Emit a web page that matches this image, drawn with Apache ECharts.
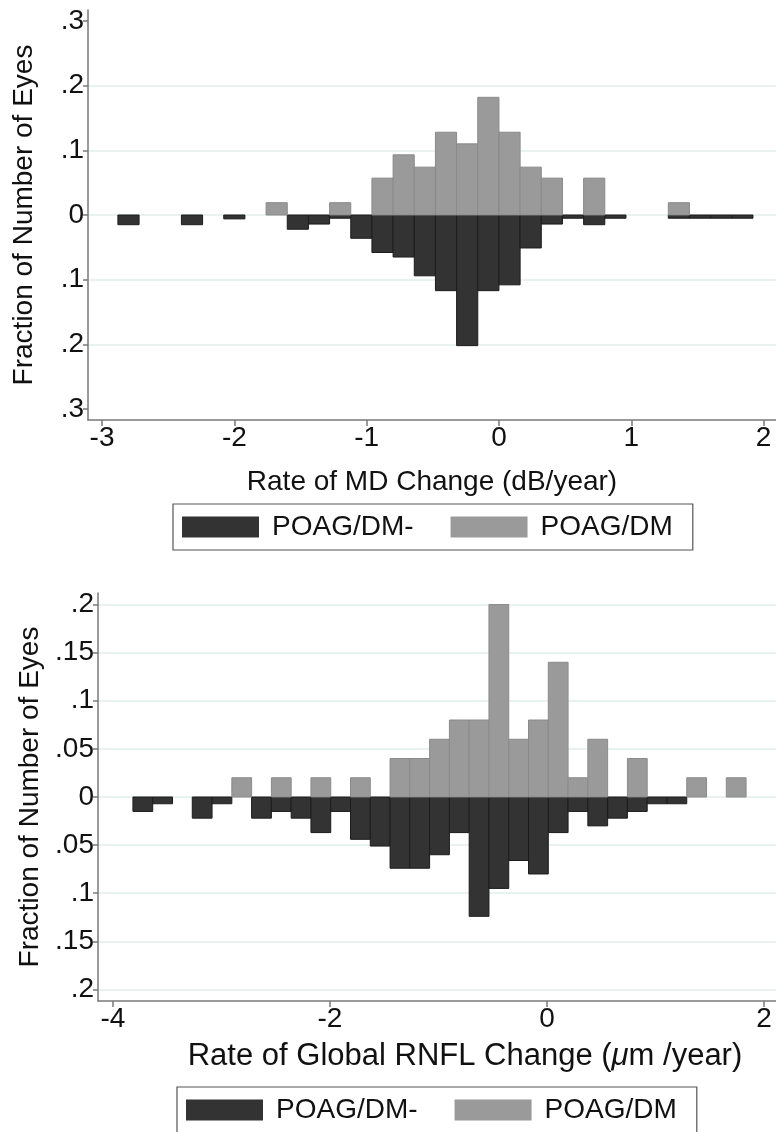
<!DOCTYPE html>
<html>
<head>
<meta charset="utf-8">
<script src="https://cdn.jsdelivr.net/npm/echarts@6/dist/echarts.min.js"></script>
<style>
html,body{margin:0;padding:0;background:#fff}
#c{width:776px;height:1132px}
</style>
</head>
<body>
<div id="c"></div>
<script>
// ---------- Data: top panel (rate of MD change, dB/year) ----------
const mdBinStart = -2.88;
const mdBinWidth = 0.16;
// POAG/DM- (drawn downward), fraction per bin
const mdDMminus = [0.015, 0, 0, 0.015, 0, 0.006, 0, 0, 0.022, 0.014,
                   0.005, 0.036, 0.058, 0.065, 0.094, 0.117, 0.202, 0.117, 0.108, 0.051,
                   0.014, 0.005, 0.015, 0.005, 0, 0, 0.005, 0.005, 0.005, 0.005];
// POAG/DM (drawn upward)
const mdDM =      [0, 0, 0, 0, 0, 0, 0, 0.019, 0, 0,
                   0.019, 0, 0.057, 0.093, 0.074, 0.128, 0.110, 0.182, 0.128, 0.074,
                   0.057, 0, 0.057, 0, 0, 0, 0.019, 0, 0, 0];
const mdXTicks = [-3, -2, -1, 0, 1, 2];
const mdYTicks = [-0.3, -0.2, -0.1, 0, 0.1, 0.2, 0.3];

// ---------- Data: bottom panel (rate of global RNFL change, um/year) ----------
const rnflBinStart = -3.816;
const rnflBinWidth = 0.1823;
const rnflDMminus = [0.015, 0.007, 0, 0.022, 0.007, 0, 0.022, 0.015, 0.022, 0.037,
                     0.015, 0.044, 0.051, 0.074, 0.074, 0.060, 0.037, 0.124, 0.095, 0.066,
                     0.080, 0.037, 0.015, 0.030, 0.022, 0.015, 0.007, 0.007, 0, 0, 0];
const rnflDM =      [0, 0, 0, 0, 0, 0.02, 0, 0.02, 0, 0.02,
                     0, 0.02, 0, 0.04, 0.04, 0.06, 0.08, 0.08, 0.20, 0.06,
                     0.08, 0.14, 0.02, 0.06, 0, 0.04, 0, 0, 0.02, 0, 0.02];
const rnflXTicks = [-4, -2, 0, 2];
const rnflYTicks = [-0.2, -0.15, -0.1, -0.05, 0, 0.05, 0.1, 0.15, 0.2];

const seriesNames = ['POAG/DM-', 'POAG/DM'];

// ---------- Styles ----------
const FONT = 'Liberation Sans, Arial, Helvetica, sans-serif';
const DARK = '#333333', DARK_EDGE = '#1c1c1c';
const LIGHT = '#9a9a9a', LIGHT_EDGE = '#8a8a8a';
const AXIS = '#7a7a7a';
const GRID = '#e3ecec';

function toBars(start, width, vals, sign) {
  const out = [];
  vals.forEach((v, i) => {
    if (v) out.push([start + i * width, start + (i + 1) * width, sign * v]);
  });
  return out;
}

function renderBar(params, api) {
  const p0 = api.coord([api.value(0), 0]);
  const p1 = api.coord([api.value(1), api.value(2)]);
  const s = api.style();
  return {
    type: 'rect',
    shape: {
      x: Math.min(p0[0], p1[0]), y: Math.min(p0[1], p1[1]),
      width: Math.abs(p1[0] - p0[0]), height: Math.abs(p1[1] - p0[1])
    },
    style: s
  };
}

function yFmt(v) {
  if (Math.abs(v) < 1e-9) return '0';
  return String(+Math.abs(v).toFixed(3)).replace(/^0/, '');
}

function gridColors(ticks, hideEnds) {
  return ticks.map((t, i) => (hideEnds && (i === 0 || i === ticks.length - 1)) ? 'rgba(0,0,0,0)' : GRID);
}

function xAxisCfg(idx, min, max, ticks, name, gap, nameSize, namePadLeft) {
  return {
    type: 'value', gridIndex: idx, min: min, max: max,
    name: name, nameLocation: 'middle', nameGap: gap,
    nameTextStyle: {
      fontSize: nameSize, color: '#111', fontFamily: FONT,
      padding: [0, 0, 0, namePadLeft],
      rich: {
        n: {fontSize: nameSize, color: '#111', fontFamily: FONT},
        i: {fontSize: nameSize, color: '#111', fontFamily: FONT, fontStyle: 'italic'}
      }
    },
    axisLine: {show: true, onZero: false, lineStyle: {color: AXIS, width: 1.5}},
    axisTick: {show: true, customValues: ticks, length: 6, lineStyle: {color: AXIS, width: 1.5}},
    axisLabel: {show: true, customValues: ticks, fontSize: 28, color: '#111', fontFamily: FONT, margin: 4},
    splitLine: {show: false}
  };
}

function yAxisCfg(idx, min, max, ticks, gap, hideEnds) {
  return {
    type: 'value', gridIndex: idx, min: min, max: max,
    name: 'Fraction of Number of Eyes', nameLocation: 'middle', nameGap: gap,
    nameTextStyle: {fontSize: 28, color: '#111', fontFamily: FONT},
    axisLine: {show: true, onZero: false, lineStyle: {color: AXIS, width: 1.5}},
    axisTick: {show: true, customValues: ticks, length: 5, lineStyle: {color: AXIS, width: 1.5}},
    axisLabel: {show: true, customValues: ticks, fontSize: 28, color: '#111', fontFamily: FONT, margin: 4, formatter: yFmt},
    splitLine: {show: true, lineStyle: {color: gridColors(ticks, hideEnds), width: 1.5}}
  };
}

function barSeries(name, idx, data, fill, edge) {
  return {
    type: 'custom', name: name, xAxisIndex: idx, yAxisIndex: idx,
    renderItem: renderBar,
    encode: {x: [0, 1], y: 2},
    itemStyle: {color: fill, borderColor: edge, borderWidth: 1},
    data: data, animation: false, silent: true
  };
}

function legendCfg(left, top) {
  return {
    data: seriesNames.map(n => ({name: n, icon: 'rect'})),
    left: left, top: top, orient: 'horizontal',
    itemWidth: 77, itemHeight: 21, itemGap: 37,
    padding: [8, 20, 8, 9],
    borderColor: '#555', borderWidth: 1.2,
    selectedMode: false,
    textStyle: {fontSize: 28, color: '#111', fontFamily: FONT, padding: [0, 0, 0, 8], lineHeight: 30},
    itemStyle: {borderWidth: 0}
  };
}

const chart = echarts.init(document.getElementById('c'), null, {renderer: 'canvas'});
chart.setOption({
  backgroundColor: '#fff',
  animation: false,
  grid: [
    {left: 88, top: 10, width: 688, height: 410},
    {left: 98, top: 593, width: 678, height: 408}
  ],
  xAxis: [
    xAxisCfg(0, -3.106, 2.094, mdXTicks, 'Rate of MD Change (dB/year)', 48, 28, 0),
    xAxisCfg(1, -4.138, 2.111, rnflXTicks, '{n|Rate of Global RNFL Change (}{i|\u03bc}{n|m /year)}', 40, 31, 56)
  ],
  yAxis: [
    yAxisCfg(0, -0.317, 0.317, mdYTicks, 50, true),
    yAxisCfg(1, -0.212, 0.212, rnflYTicks, 52, false)
  ],
  legend: [legendCfg(173, 504), legendCfg(177, 1087)],
  series: [
    barSeries(seriesNames[0], 0, toBars(mdBinStart, mdBinWidth, mdDMminus, -1), DARK, DARK_EDGE),
    barSeries(seriesNames[1], 0, toBars(mdBinStart, mdBinWidth, mdDM, 1), LIGHT, LIGHT_EDGE),
    barSeries(seriesNames[0], 1, toBars(rnflBinStart, rnflBinWidth, rnflDMminus, -1), DARK, DARK_EDGE),
    barSeries(seriesNames[1], 1, toBars(rnflBinStart, rnflBinWidth, rnflDM, 1), LIGHT, LIGHT_EDGE)
  ]
});
</script>
</body>
</html>
